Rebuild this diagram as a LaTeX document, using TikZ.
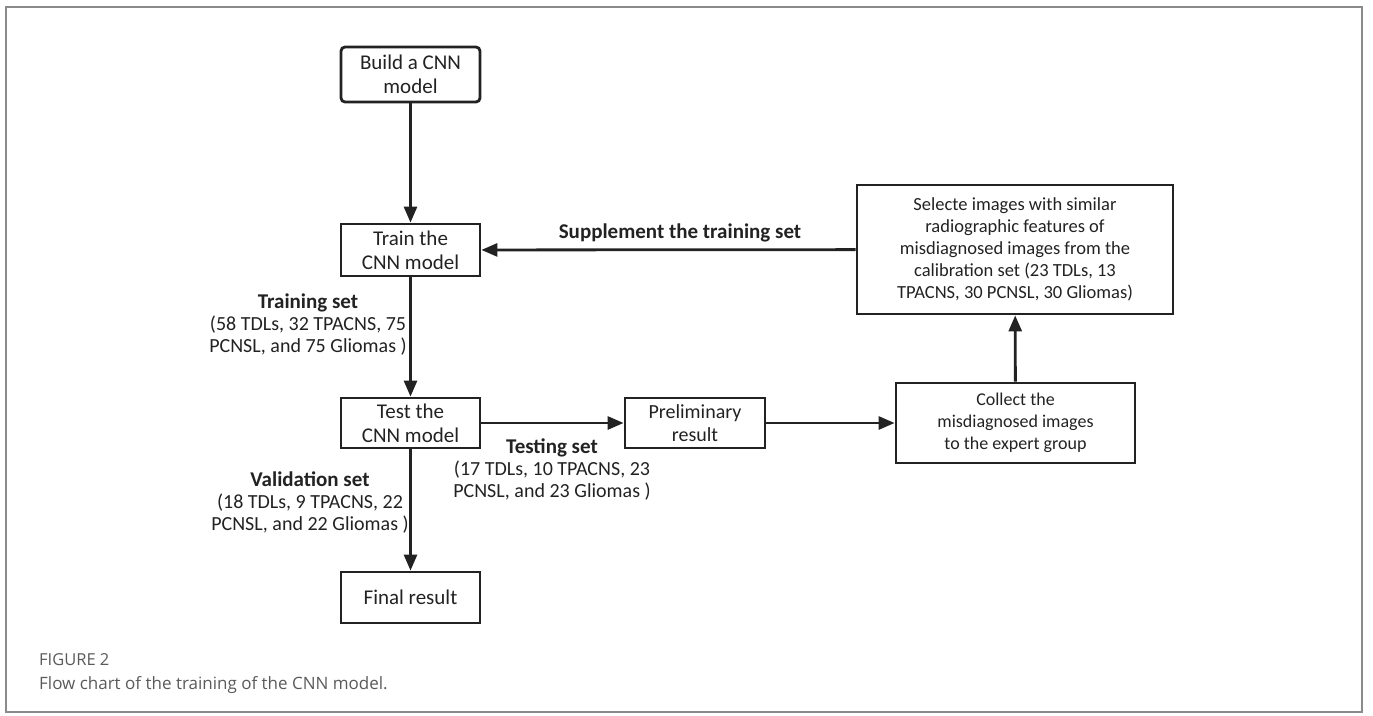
\documentclass[tikz,border=0pt]{standalone}
\usepackage{fontspec}
\setmainfont{Carlito}
\newfontfamily\capfont{Open Sans}
\usetikzlibrary{arrows.meta}
\definecolor{ink}{HTML}{222222}
\definecolor{capgray}{HTML}{5A5A5A}
\definecolor{framegray}{HTML}{8A8A8A}
\tikzset{
  box/.style={draw=ink, line width=2.8pt, align=center, inner sep=2pt,
    font=\fontsize{21}{24}\selectfont, text=ink},
  smallbox/.style={box, font=\fontsize{18}{22}\selectfont},
  lbl/.style={align=center, font=\fontsize{20}{22}\selectfont, text=ink},
  conn/.style={draw=ink, line width=2.8pt, -{Triangle[length=16pt,width=13pt]}},
}
\begin{document}
\begin{tikzpicture}[x=1pt,y=-1pt]
\useasboundingbox (0,0) rectangle (1373,715);
\draw[framegray, line width=1.8pt] (6,7) rectangle (1362,712);

\node[box, rounded corners=4pt, minimum width=139pt, minimum height=55pt] (build) at (410.5,74.5) {Build a CNN\\model};
\node[box, minimum width=139pt, minimum height=52pt] (train) at (410.5,250) {Train the\\CNN model};
\node[box, minimum width=139pt, minimum height=50pt] (test) at (410.5,423) {Test the\\CNN model};
\node[box, minimum width=139pt, minimum height=51pt] (final) at (410.5,597.5) {Final result};
\node[box, font=\fontsize{20}{23}\selectfont, minimum width=140pt, minimum height=50pt] (prelim) at (695,423) {Preliminary\\result};
\node[smallbox, minimum width=239pt, minimum height=80pt] (collect) at (1015.5,423) {Collect the\\misdiagnosed images\\to the expert group};
\node[smallbox, font=\fontsize{18.5}{22}\selectfont, minimum width=316pt, minimum height=129pt] (select) at (1015,249.5) {Selecte images with similar\\radiographic features of\\misdiagnosed images from the\\calibration set (23 TDLs, 13\\TPACNS, 30 PCNSL, 30 Gliomas)};

\draw[conn] (build) -- (train);
\draw[conn] (train) -- (test);
\draw[conn] (test) -- (final);
\draw[conn] (test) -- (prelim);
\draw[conn] (prelim.east) -- (collect.west |- prelim.east);
\draw[conn] (collect) -- (select);
\draw[conn] (select) -- (train);

\node[lbl] (suplbl) at (680,233) {\textbf{\fontsize{21}{22}\selectfont Supplement the training set}};
\node[lbl] (trainlbl) at (308,325) {{\bfseries\fontsize{21}{22}\selectfont Training set}\\(58 TDLs, 32 TPACNS, 75\\PCNSL, and 75 Gliomas )};
\node[lbl] (vallbl) at (310,502) {{\bfseries\fontsize{21}{22}\selectfont Validation set}\\(18 TDLs, 9 TPACNS, 22\\PCNSL, and 22 Gliomas )};
\node[lbl] (testlbl) at (552,469) {{\bfseries\fontsize{21}{22}\selectfont Testing set}\\(17 TDLs, 10 TPACNS, 23\\PCNSL, and 23 Gliomas )};

\node[anchor=base west, inner sep=0pt, text=capgray, font=\capfont\fontsize{16.5}{18}\selectfont] (figno) at (39,665) {FIGURE 2};
\node[anchor=base west, inner sep=0pt, text=capgray, font=\capfont\fontsize{17}{20}\selectfont] (cap) at (39,689) {Flow chart of the training of the CNN model.};
\end{tikzpicture}
\end{document}
